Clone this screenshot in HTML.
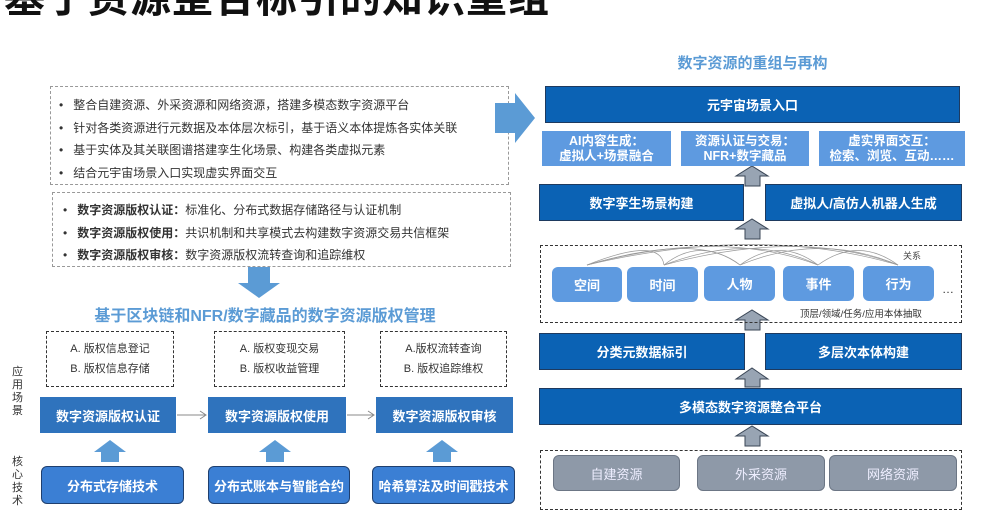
<!DOCTYPE html>
<html><head><meta charset="utf-8"><style>
body{margin:0;width:987px;height:496px;overflow:hidden;background:#fff;position:relative;font-family:"Liberation Sans","Noto Sans CJK SC",sans-serif}
.a{position:absolute;box-sizing:border-box}
.c{display:flex;align-items:center;justify-content:center;text-align:center}
.dash{border:1px dashed #999}
.dk{border:1.5px dashed #333}
.db{background:#0b62b4;color:#fff;font-weight:bold;font-size:13px;border:1px solid #1e3a5f}
.lb{background:#5e9ae0;color:#fff;font-weight:bold;font-size:12.5px;line-height:15px}
.mb{background:#2f73bd;color:#fff;font-weight:bold;font-size:13px}
.nd{background:#5e9ae0;color:#fff;font-weight:bold;font-size:13px;border-radius:6px}
.gr{background:#8e99a8;color:#eef;font-size:13px;border-radius:6px;border:1px solid #6c7685}
.bt{background:#3b7fd4;color:#fff;font-weight:bold;font-size:13px;border-radius:6px;border:1.5px solid #1f3f6e}
.li{font-size:12px;color:#333;height:22.5px;line-height:22.5px;white-space:nowrap}
.li:before{content:"•";margin:0 10px 0 4px}
</style></head><body>
<div class="a" style="left:4px;top:-36px;font-size:41px;font-weight:bold;color:#111;white-space:nowrap;letter-spacing:1px">基于资源整合标引的知识重组</div>

<div class="a dash" style="left:50px;top:86px;width:459px;height:99px;padding:7px 0 0 4px">
<div class="li">整合自建资源、外采资源和网络资源，搭建多模态数字资源平台</div>
<div class="li">针对各类资源进行元数据及本体层次标引，基于语义本体提炼各实体关联</div>
<div class="li">基于实体及其关联图谱搭建孪生化场景、构建各类虚拟元素</div>
<div class="li">结合元宇宙场景入口实现虚实界面交互</div>
</div>
<div class="a dash" style="left:52px;top:192px;width:459px;height:75px;padding:6px 0 0 6px">
<div class="li"><b>数字资源版权认证：</b>标准化、分布式数据存储路径与认证机制</div>
<div class="li"><b>数字资源版权使用：</b>共识机制和共享模式去构建数字资源交易共信框架</div>
<div class="li"><b>数字资源版权审核：</b>数字资源版权流转查询和追踪维权</div>
</div>
<svg class="a" style="left:0;top:0" width="987" height="496">
<polygon points="495,103 515,103 515,93 535,118 515,143 515,133 495,133" fill="#5b9bd5"/>
<polygon points="248,267 270,267 270,283 280,283 259,298 238,283 248,283" fill="#5b9bd5"/>
<g fill="#5b9bd5">
<polygon points="101,462 119,462 119,452 126,452 110,440 94,452 101,452"/>
<polygon points="266,462 284,462 284,452 291,452 275,440 259,452 266,452"/>
<polygon points="433,462 451,462 451,452 458,452 442,440 426,452 433,452"/>
</g>
<g stroke="#888" stroke-width="1" fill="#888">
<line x1="177" y1="415" x2="205" y2="415"/><polyline points="200,411 206,415 200,419" fill="none"/>
<line x1="347" y1="415" x2="373" y2="415"/><polyline points="368,411 374,415 368,419" fill="none"/>
</g>
<g fill="#98a4b3" stroke="#3a4656" stroke-width="1">
<polygon points="745,186 760,186 760,176 768,176 752,166 736,176 745,176"/>
<polygon points="745,239 760,239 760,229 768,229 752,219 736,229 745,229"/>
<polygon points="745,330 760,330 760,320 768,320 752,310 736,320 745,320"/>
<polygon points="745,387 760,387 760,379 768,379 752,368 736,379 745,379"/>
<polygon points="745,446 760,446 760,436 768,436 752,426 736,436 745,436"/>
</g>
<g fill="none" stroke="#999" stroke-width="0.7">
<path d="M587,265 Q660,236 664,265"/><path d="M587,265 Q700,232 740,265"/><path d="M587,265 Q720,228 818,265"/>
<path d="M664,265 Q700,236 740,265"/><path d="M664,265 Q750,232 818,265"/><path d="M664,265 Q800,228 898,265"/>
<path d="M740,265 Q780,236 818,265"/><path d="M740,265 Q820,232 898,265"/><path d="M818,265 Q858,236 898,265"/>
<path d="M587,265 Q760,224 898,265"/>
</g>
</svg>
<div class="a" style="left:0;top:302px;width:530px;text-align:center;font-size:16px;font-weight:bold;color:#5b9bd5">基于区块链和NFR/数字藏品的数字资源版权管理</div>
<div class="a dk c" style="left:46px;top:331px;width:128px;height:56px;font-size:11px;line-height:20px;color:#333">A. 版权信息登记<br>B. 版权信息存储</div>
<div class="a dk c" style="left:214px;top:331px;width:131px;height:56px;font-size:11px;line-height:20px;color:#333">A. 版权变现交易<br>B. 版权收益管理</div>
<div class="a dk c" style="left:380px;top:331px;width:127px;height:56px;font-size:11px;line-height:20px;color:#333">A.版权流转查询<br>B. 版权追踪维权</div>
<div class="a" style="left:12px;top:366px;width:14px;font-size:11px;line-height:13px;color:#333">应用场景</div>
<div class="a" style="left:12px;top:456px;width:14px;font-size:11px;line-height:13px;color:#333">核心技术</div>
<div class="a mb c" style="left:40px;top:397px;width:136px;height:36px">数字资源版权认证</div>
<div class="a mb c" style="left:208px;top:397px;width:138px;height:36px">数字资源版权使用</div>
<div class="a mb c" style="left:376px;top:397px;width:137px;height:36px">数字资源版权审核</div>
<div class="a bt c" style="left:41px;top:466px;width:143px;height:38px">分布式存储技术</div>
<div class="a bt c" style="left:208px;top:466px;width:142px;height:38px">分布式账本与智能合约</div>
<div class="a bt c" style="left:372px;top:466px;width:143px;height:38px">哈希算法及时间戳技术</div>

<div class="a" style="left:545px;top:52px;width:415px;text-align:center;font-size:15px;font-weight:bold;color:#5b9bd5">数字资源的重组与再构</div>
<div class="a db c" style="left:545px;top:86px;width:415px;height:37px">元宇宙场景入口</div>
<div class="a lb c" style="left:542px;top:131px;width:129px;height:35px">AI内容生成：<br>虚拟人+场景融合</div>
<div class="a lb c" style="left:681px;top:131px;width:128px;height:35px">资源认证与交易：<br>NFR+数字藏品</div>
<div class="a lb c" style="left:819px;top:131px;width:146px;height:35px">虚实界面交互：<br>检索、浏览、互动……</div>
<div class="a db c" style="left:539px;top:184px;width:205px;height:37px">数字孪生场景构建</div>
<div class="a db c" style="left:765px;top:184px;width:197px;height:37px">虚拟人/高仿人机器人生成</div>
<div class="a dk" style="left:540px;top:245px;width:422px;height:78px"></div>
<div class="a" style="left:903px;top:249px;font-size:9px;color:#444">关系</div>
<div class="a nd c" style="left:552px;top:267px;width:70px;height:35px">空间</div>
<div class="a nd c" style="left:627px;top:267px;width:71px;height:35px">时间</div>
<div class="a nd c" style="left:704px;top:266px;width:71px;height:35px">人物</div>
<div class="a nd c" style="left:783px;top:266px;width:71px;height:35px">事件</div>
<div class="a nd c" style="left:863px;top:266px;width:71px;height:35px">行为</div>
<div class="a" style="left:942px;top:282px;font-size:12px;color:#333">…</div>
<div class="a" style="left:800px;top:306px;font-size:9.5px;color:#333">顶层/领域/任务/应用本体抽取</div>
<div class="a db c" style="left:539px;top:333px;width:206px;height:37px">分类元数据标引</div>
<div class="a db c" style="left:765px;top:333px;width:197px;height:37px">多层次本体构建</div>
<div class="a db c" style="left:539px;top:388px;width:423px;height:37px">多模态数字资源整合平台</div>
<div class="a dk" style="left:540px;top:450px;width:422px;height:60px"></div>
<div class="a gr c" style="left:553px;top:455px;width:127px;height:36px">自建资源</div>
<div class="a gr c" style="left:697px;top:455px;width:128px;height:36px">外采资源</div>
<div class="a gr c" style="left:829px;top:455px;width:128px;height:36px">网络资源</div>
</body></html>
